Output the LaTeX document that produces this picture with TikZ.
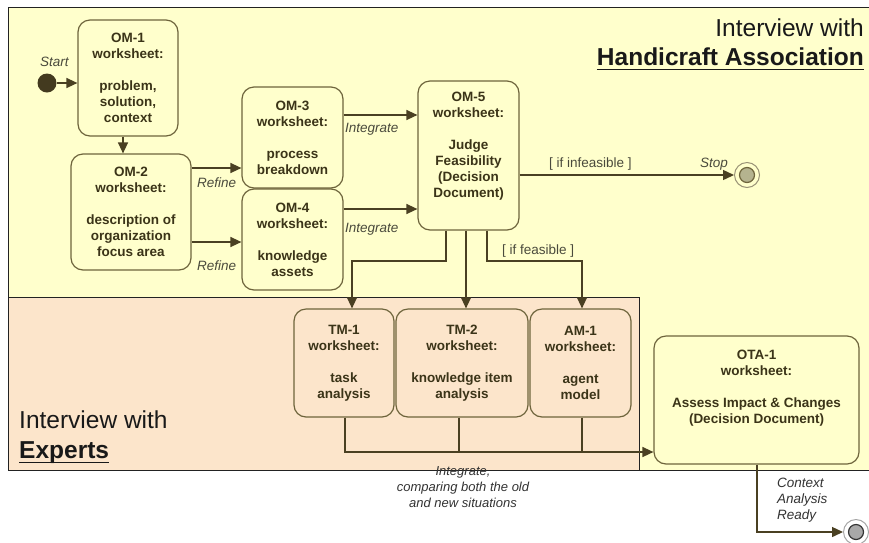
\documentclass[tikz,border=0pt]{standalone}
\usepackage{fontspec}
\setmainfont{Liberation Sans}
\usetikzlibrary{arrows.meta}
\definecolor{bgyel}{HTML}{FFFFCC}
\definecolor{peach}{HTML}{FCE5CB}
\definecolor{nodeline}{HTML}{6E643C}
\definecolor{nodetext}{HTML}{3B3418}
\definecolor{conn}{HTML}{4A4022}
\definecolor{labcol}{HTML}{4A4A3C}
\definecolor{regline}{HTML}{222222}
\definecolor{stopfill}{HTML}{B5B38F}
\definecolor{endfill}{HTML}{A8A8A8}
\begin{document}
\begin{tikzpicture}[x=1pt,y=-1pt,
  box/.style={draw=nodeline, line width=1.2pt, rounded corners=12pt, inner sep=0pt,
    align=center, font=\bfseries\fontsize{13.5}{16}\selectfont, text=nodetext},
  conn/.style={draw=conn, line width=1.4pt},
  arr/.style={conn, -{Triangle[length=11pt,width=10pt]}},
  lab/.style={font=\itshape\fontsize{13.5}{16}\selectfont, text=labcol, inner sep=0pt},
  guard/.style={font=\fontsize{13.5}{16}\selectfont, text=labcol, inner sep=0pt},
  title/.style={font=\fontsize{24.5}{29}\selectfont, text=black!90, inner sep=0pt},
  titleb/.style={title, font=\bfseries\fontsize{24.5}{29}\selectfont}]
\useasboundingbox (0,0) rectangle (869,542);
\fill[white] (0,0) rectangle (869,542);
% regions
\fill[bgyel] (8,7) rectangle (869,470);
\fill[peach] (8,297) rectangle (639,470);
\draw[regline, line width=1pt] (869,7) -- (8,7) -- (8,470) -- (869,470);
\draw[regline, line width=1pt] (8,297) -- (639,297) -- (639,470);
% titles
\node[title, anchor=base east] (t1) at (864,36) {Interview with};
\node[titleb, anchor=base east] (t2) at (864,65) {Handicraft Association};
\draw[black!90, line width=1.6pt] ([yshift=-4.5pt]t2.base west) -- ([yshift=-4.5pt]t2.base east);
\node[title, anchor=base west] (t3) at (19,428) {Interview with};
\node[titleb, anchor=base west] (t4) at (19,458) {Experts};
\draw[black!90, line width=1.6pt] ([yshift=-4.5pt]t4.base west) -- ([yshift=-4.5pt]t4.base east);
% boxes
\node[box, minimum width=100pt, minimum height=116pt] (om1) at (128,78)
  {OM-1\\worksheet:\\[16pt]problem,\\solution,\\context};
\node[box, minimum width=120pt, minimum height=116pt] (om2) at (131,212)
  {OM-2\\worksheet:\\[16pt]description of\\organization\\focus area};
\node[box, minimum width=101pt, minimum height=101pt] (om3) at (292.5,137.5)
  {OM-3\\worksheet:\\[16pt]process\\breakdown};
\node[box, minimum width=101pt, minimum height=101pt] (om4) at (292.5,239.5)
  {OM-4\\worksheet:\\[16pt]knowledge\\assets};
\node[box, minimum width=101pt, minimum height=149pt] (om5) at (468.5,155.5)
  {OM-5\\worksheet:\\[16pt]Judge\\Feasibility\\(Decision\\Document)\\[6pt]\mbox{}};
\node[box, fill=peach, minimum width=100pt, minimum height=108pt] (tm1) at (344,363)
  {TM-1\\worksheet:\\[16pt]task\\analysis};
\node[box, fill=peach, minimum width=132pt, minimum height=108pt] (tm2) at (462,363)
  {TM-2\\worksheet:\\[16pt]knowledge item\\analysis};
\node[box, fill=peach, minimum width=101pt, minimum height=108pt] (am1) at (580.5,363)
  {AM-1\\worksheet:\\[16pt]agent\\model};
\node[box, minimum width=205pt, minimum height=128pt] (ota1) at (756.5,400)
  {OTA-1\\worksheet:\\[16pt]Assess Impact \& Changes\\(Decision Document)\\[11pt]\mbox{}};
% start / stop / end
\node[circle, fill=conn!90!black, minimum size=19pt, inner sep=0pt] (start) at (47,83) {};
\node[circle, draw=nodeline!70, line width=1pt, fill=bgyel, minimum size=25pt, inner sep=0pt] (stop) at (747,175) {};
\node[circle, draw=nodeline, line width=1.2pt, fill=stopfill, minimum size=15pt, inner sep=0pt] (stopin) at (stop) {};
\node[circle, draw=gray!70, line width=1pt, fill=white, minimum size=25pt, inner sep=0pt] (endc) at (856,532) {};
\node[circle, draw=gray!40!black, line width=1.2pt, fill=endfill, minimum size=15pt, inner sep=0pt] (endin) at (endc) {};
% connectors
\draw[arr] (start.east) -- (om1.west |- start);
\draw[arr] (om1.south -| 123,0) -- (om2.north -| 123,0);
\draw[arr] (om2.east |- 0,168) -- (om3.west |- 0,168);
\draw[arr] (om2.east |- 0,242) -- (om4.west |- 0,242);
\draw[arr] (om3.east |- 0,115) -- (om5.west |- 0,115);
\draw[arr] (om4.east |- 0,209) -- (om5.west |- 0,209);
\draw[arr] (om5.east |- stop) -- (stop.west);
\draw[arr] (om5.south -| 446,0) -- (446,261) -| (tm1.north -| 352,0);
\draw[arr] (om5.south -| 466,0) -- (tm2.north -| 466,0);
\draw[arr] (om5.south -| 487,0) -- (487,261) -| (am1.north -| 582,0);
\draw[conn] (tm2.south -| 459,0) -- (459,452);
\draw[conn] (am1.south -| 582,0) -- (582,452);
\draw[arr] (tm1.south -| 345,0) -- (345,452) -- (ota1.west |- 0,452);
\draw[arr] (ota1.south -| 757,0) -- (757,532) -- (endc.west);
% labels
\node[lab, anchor=base west] (lstart) at (40,66) {Start};
\node[lab, anchor=base west] (lstop) at (700,167) {Stop};
\node[lab, anchor=base west] (lref1) at (197,187) {Refine};
\node[lab, anchor=base west] (lref2) at (197,270) {Refine};
\node[lab, anchor=base west] (lint1) at (345,132) {Integrate};
\node[lab, anchor=base west] (lint2) at (345,232) {Integrate};
\node[guard, anchor=base west] (ginf) at (549,167) {[ if infeasible ]};
\node[guard, anchor=base west] (gfea) at (502,254) {[ if feasible ]};
\node[lab, font=\itshape\fontsize{13}{16}\selectfont, text=black!80, align=center, anchor=north] (lcomp) at (463,466)
  {Integrate,\\comparing both the old\\and new situations};
\node[lab, text=black!80, align=left, anchor=north west] (lready) at (777,477.5)
  {Context\\Analysis\\Ready};
\end{tikzpicture}
\end{document}
